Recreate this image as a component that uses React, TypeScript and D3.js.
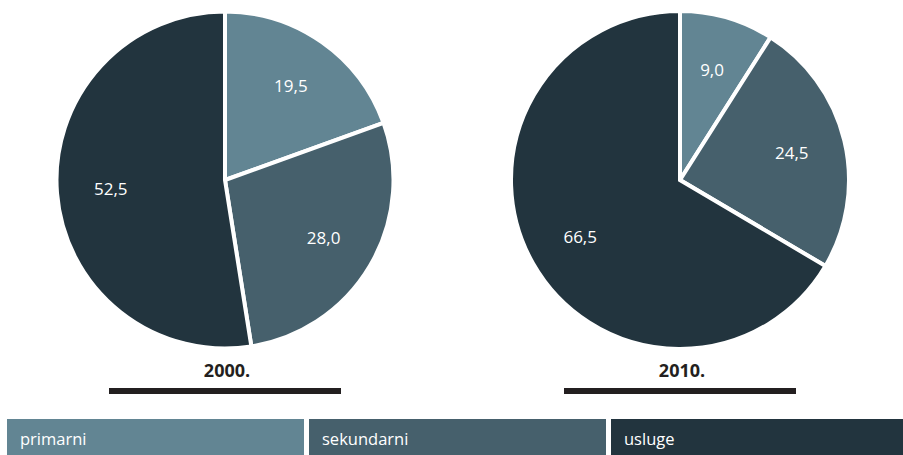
import React from "react";
import * as d3 from "d3";

const categories = ["primarni", "sekundarni", "usluge"];
const colors = ["#628593", "#46606c", "#22343e"];
const years = ["2000.", "2010."];
const values2000 = [19.5, 28.0, 52.5];
const values2010 = [9.0, 24.5, 66.5];

const W = 903;
const H = 455;
const FONT = "'Open Sans', sans-serif";

function Pie({ cx, cy, r, values, year }: { cx: number; cy: number; r: number; values: number[]; year: string }) {
  const pie = d3.pie<number>().sort(null).value((d) => d);
  const arcs = pie(values);
  const arc = d3.arc<d3.PieArcDatum<number>>().innerRadius(0).outerRadius(r);
  const labelArc = d3.arc<d3.PieArcDatum<number>>().innerRadius(r * 0.68).outerRadius(r * 0.68);
  const fmt = (v: number) => v.toFixed(1).replace(".", ",");
  return (
    <g>
      <g transform={`translate(${cx},${cy})`}>
        {arcs.map((a, i) => (
          <path key={i} d={arc(a) || ""} fill={colors[i]} stroke="#fff" strokeWidth={4} strokeLinejoin="miter" />
        ))}
        {arcs.map((a, i) => {
          const [x, y] = labelArc.centroid(a);
          return (
            <text key={i} x={x} y={y} dy="0.35em" textAnchor="middle" fill="#fff" fontSize={17} fontFamily={FONT}>
              {fmt(a.data)}
            </text>
          );
        })}
      </g>
      <text x={cx + 2} y={377} textAnchor="middle" fontSize={18} fontWeight="bold" fill="#231f20" fontFamily={FONT}>
        {year}
      </text>
      <rect x={cx - 116} y={388} width={232} height={6} fill="#231f20" />
    </g>
  );
}

export default function App() {
  const legendX = d3.scaleBand<string>().domain(categories).range([7, 913]).paddingInner(0.0);
  return (
    <svg width={W} height={H} style={{ position: "absolute", left: 0, top: 0 }}>
      <Pie cx={225} cy={180} r={168.5} values={values2000} year={years[0]} />
      <Pie cx={680} cy={180} r={169} values={values2010} year={years[1]} />
      {categories.map((c, i) => (
        <g key={c}>
          <rect x={legendX(c)!} y={419} width={legendX.bandwidth() - 5} height={36} fill={colors[i]} />
          <text x={legendX(c)! + 13} y={440} dy="0.3em" fontSize={16.5} fill="#fff" fontFamily={FONT}>
            {c}
          </text>
        </g>
      ))}
    </svg>
  );
}
